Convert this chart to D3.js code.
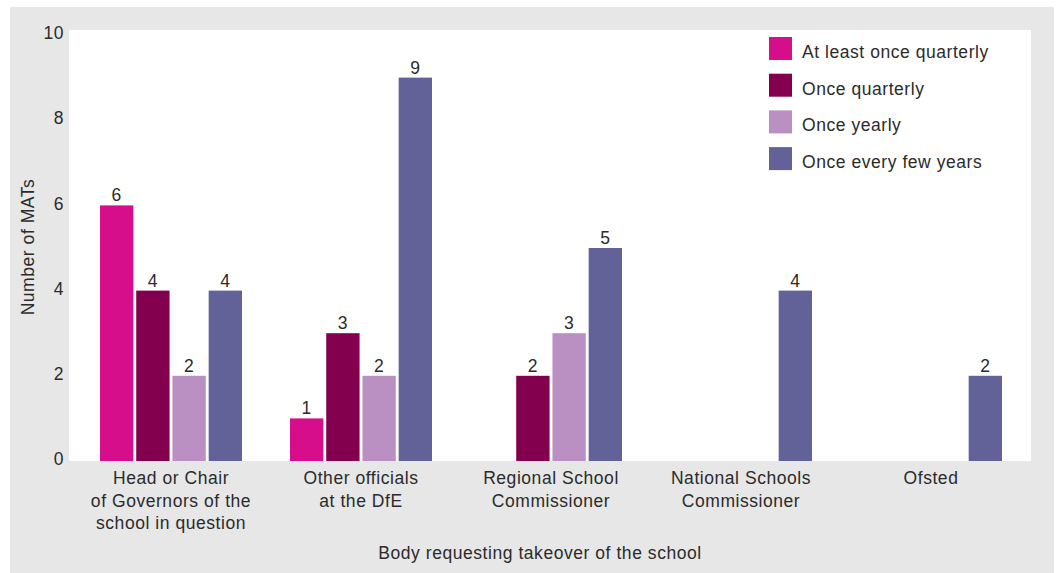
<!DOCTYPE html>
<html>
<head>
<meta charset="utf-8">
<script src="https://cdn.jsdelivr.net/npm/d3@7"></script>
<style>
  html, body { margin: 0; padding: 0; background: #ffffff; }
  svg { display: block; font-family: "Liberation Sans", Arial, Helvetica, sans-serif; }
  svg text { letter-spacing: 0.55px; }
</style>
</head>
<body>
<svg id="chart" width="1061" height="573"></svg>
<script>
// Bodies requesting takeover of a school
const categories = [
  ["Head or Chair", "of Governors of the", "school in question"],
  ["Other officials", "at the DfE"],
  ["Regional School", "Commissioner"],
  ["National Schools", "Commissioner"],
  ["Ofsted"]
];
const seriesNames = ["At least once quarterly", "Once quarterly", "Once yearly", "Once every few years"];
const seriesColors = ["#d70e8c", "#83004f", "#ba8fc2", "#626299"];

// Number of MATs per body, one array per frequency (null = no bar)
const atLeastQuarterly = [6, 1, null, null, null];
const onceQuarterly    = [4, 3, 2, null, null];
const onceYearly       = [2, 2, 3, null, null];
const everyFewYears    = [4, 9, 5, 4, 2];

const yTicks = [0, 2, 4, 6, 8, 10];
const yTitle = "Number of MATs";
const xTitle = "Body requesting takeover of the school";

const series = [atLeastQuarterly, onceQuarterly, onceYearly, everyFewYears];

const svg = d3.select("#chart");
const textColor = "#2b2b2b";
const fs = 17.5;

// panel background and plot area
svg.append("rect").attr("x", 10).attr("y", 7).attr("width", 1044).attr("height", 566).attr("fill", "#e6e7e6");
svg.append("rect").attr("x", 69).attr("y", 30).attr("width", 962).attr("height", 431).attr("fill", "#ffffff");

const y = d3.scaleLinear().domain([0, 10]).range([461, 35]);
const x0 = d3.scaleBand().domain(d3.range(categories.length)).range([76, 1026]);
const x1 = d3.scaleBand().domain(d3.range(seriesNames.length)).range([-71, 71]).paddingInner(0.08);

// y axis tick labels
const yAxis = d3.axisLeft(y).tickValues(yTicks).tickSize(0).tickPadding(0).tickFormat(d3.format("d"));
const ya = svg.append("g").attr("transform", "translate(64,-2)").call(yAxis);
ya.select(".domain").remove();
ya.selectAll("text").attr("font-size", fs).attr("fill", textColor).attr("font-family", null);

// bars and value labels
series.forEach((vals, si) => {
  const g = svg.append("g");
  vals.forEach((v, ci) => {
    if (v == null) return;
    const cx = x0(ci) + x0.bandwidth() / 2;
    const bx = cx + x1(si);
    g.append("rect")
      .attr("x", bx).attr("y", y(v))
      .attr("width", x1.bandwidth()).attr("height", y(0) - y(v))
      .attr("fill", seriesColors[si]);
    g.append("text")
      .attr("x", bx + x1.bandwidth() / 2).attr("y", y(v) - 4)
      .attr("text-anchor", "middle").attr("font-size", fs).attr("fill", textColor)
      .text(v);
  });
});

// category labels
categories.forEach((lines, ci) => {
  const cx = x0(ci) + x0.bandwidth() / 2;
  const t = svg.append("text").attr("text-anchor", "middle").attr("font-size", fs).attr("fill", textColor);
  lines.forEach((ln, li) => {
    t.append("tspan").attr("x", cx).attr("y", 484 + li * 22.5).text(ln);
  });
});

// axis titles
svg.append("text").attr("x", 540).attr("y", 559).attr("text-anchor", "middle")
  .attr("font-size", fs).attr("fill", textColor).text(xTitle);
svg.append("text").attr("transform", "translate(34,247) rotate(-90)").attr("text-anchor", "middle")
  .attr("font-size", fs).attr("fill", textColor).text(yTitle);

// legend
const legend = svg.append("g");
seriesNames.forEach((name, i) => {
  const ly = 37 + i * 36.7;
  legend.append("rect").attr("x", 769).attr("y", ly).attr("width", 23).attr("height", 23).attr("fill", seriesColors[i]);
  legend.append("text").attr("x", 802).attr("y", ly + 21).attr("font-size", fs).attr("fill", textColor).text(name);
});
</script>
</body>
</html>
